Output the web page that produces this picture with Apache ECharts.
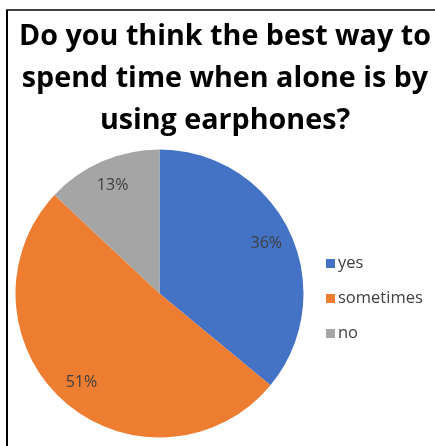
<!DOCTYPE html>
<html><head><meta charset="utf-8">
<script src="https://cdn.jsdelivr.net/npm/echarts@6/dist/echarts.min.js"></script>
<style>html,body{margin:0;padding:0;background:#fff}#c{width:435px;height:446px}</style>
</head><body><div id="c"></div>
<script>
const titleText = "Do you think the best way to\nspend time when alone is by\nusing earphones?";
const categories = ["yes", "sometimes", "no"];
const values = [36, 51, 13];
const colors = ["#4472C4", "#ED7D31", "#A5A5A5"];

const data = categories.map((n, i) => ({ name: n, value: values[i], itemStyle: { color: colors[i] } }));
const chart = echarts.init(document.getElementById('c'), null, { renderer: 'canvas' });
chart.setOption({
  animation: false,
  backgroundColor: '#fff',
  title: {
    text: titleText, left: 225, top: 16, textAlign: 'center', padding: 0,
    textStyle: { fontFamily: 'Open Sans', fontWeight: 'bold', fontSize: 28.7, lineHeight: 42, color: '#000' }
  },
  legend: {
    orient: 'vertical', left: 321, top: 250, itemWidth: 9, itemHeight: 9, itemGap: 18, icon: 'rect',
    data: categories,
    textStyle: { fontFamily: 'Open Sans', fontSize: 16.5, color: '#404040', padding: [0,0,0,-2] }
  },
  series: [{
    type: 'pie', center: [159.5, 293.5], radius: [0, 144], startAngle: 90, clockwise: true,
    label: { show: false }, labelLine: { show: false }, emphasis: { disabled: true },
    data: data
  }, {
    type: 'pie', center: [159.5, 293.5], radius: [86, 144], startAngle: 90, clockwise: true, silent: true,
    itemStyle: { color: 'rgba(0,0,0,0)' },
    label: { show: true, position: 'inside', formatter: p => p.value + '%', fontFamily: 'Open Sans', fontSize: 16, color: '#404040' },
    labelLine: { show: false }, emphasis: { disabled: true },
    data: categories.map((n, i) => ({ name: n + ' ', value: values[i] }))
  }],
  graphic: [
    { type: 'line', shape: { x1: 7, y1: 10, x2: 7, y2: 446 }, style: { stroke: '#000', lineWidth: 2 } },
    { type: 'line', shape: { x1: 6, y1: 10, x2: 435, y2: 10 }, style: { stroke: '#000', lineWidth: 1.5 } }
  ]
});
</script></body></html>
